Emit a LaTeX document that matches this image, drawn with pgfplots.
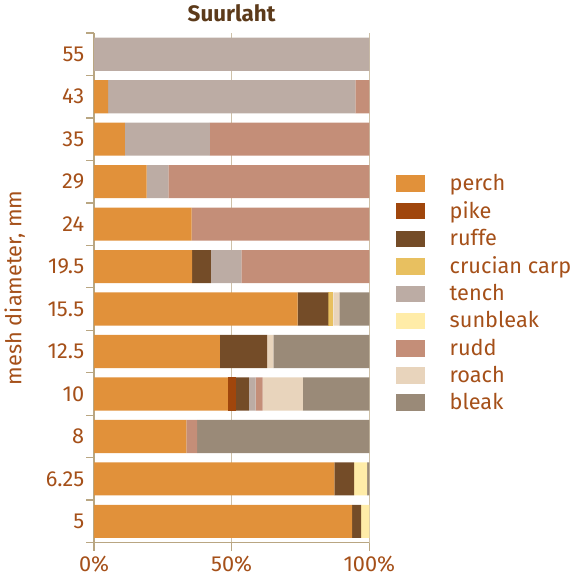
\documentclass[border=0pt]{standalone}
\usepackage{pgfplots}
\pgfplotsset{compat=1.18}
\usepackage{pgfplotstable}
\usepackage{fontspec}
\setmainfont{Fira Sans}

\definecolor{cperch}{RGB}{225,145,58}
\definecolor{cpike}{RGB}{160,70,12}
\definecolor{cruffe}{RGB}{116,76,40}
\definecolor{ccarp}{RGB}{232,192,96}
\definecolor{ctench}{RGB}{188,172,164}
\definecolor{csunbleak}{RGB}{255,236,168}
\definecolor{crudd}{RGB}{196,142,120}
\definecolor{croach}{RGB}{232,212,188}
\definecolor{cbleak}{RGB}{154,138,120}
\definecolor{txt}{RGB}{165,80,25}
\definecolor{ttl}{RGB}{92,58,26}
\definecolor{axl}{RGB}{185,166,130}

% mesh: 0=5, 1=6.25, 2=8, 3=10, 4=12.5, 5=15.5, 6=19.5, 7=24, 8=29, 9=35, 10=43, 11=55
\pgfplotstableread{
idx perch pike ruffe carp tench sunbleak rudd roach bleak
0   93.8  0    3.2   0    0     3.0      0    0     0
1   87.3  0    7.2   0    0     4.7      0    0     0.8
2   33.5  0    0     0    0     0        3.9  0     62.6
3   48.6  2.9  4.7   0    2.5   0        2.5  14.7  24.1
4   45.7  0    17.2  0    0     0        0    2.2   34.9
5   74.0  0    11.1  1.8  0     0        0    2.2   10.9
6   35.6  0    6.8   0    11.1  0        46.5 0     0
7   35.4  0    0     0    0     0        64.6 0     0
8   19.1  0    0     0    7.9   0        73.0 0     0
9   11.2  0    0     0    30.9  0        57.9 0     0
10  5.1   0    0     0    89.8  0        5.1  0     0
11  0     0    0     0    100   0        0    0     0
}\meshdata

\begin{document}
\begin{tikzpicture}
\begin{axis}[
    scale only axis,
    width=209pt, height=387pt,
    xbar stacked,
    bar width=0.78,
    xmin=0, xmax=100,
    ymin=-0.5, ymax=11.5,
    xtick={0,50,100},
    xticklabels={0\%,50\%,100\%},
    ytick={-0.5,0.5,...,11.5},
    yticklabels={},
    extra y ticks={0,1,...,11},
    extra y tick labels={5,6.25,8,10,12.5,15.5,19.5,24,29,35,43,55},
    extra y tick style={major tick length=0pt},
    tick align=outside,
    major tick length=6pt,
    axis x line*=bottom,
    axis y line*=left,
    axis line style={axl, line width=1pt, -},
    tick style={axl, line width=1pt},
    xmajorgrids=true,
    grid style={axl!70, line width=0.9pt},
    ticklabel style={font=\fontsize{16.5}{19}\selectfont, text=txt},
    yticklabel style={xshift=-4pt},
    xticklabel style={yshift=-1pt},
    ylabel={mesh diameter, mm},
    ylabel style={font=\fontsize{16.5}{19}\selectfont, text=txt, yshift=3pt},
    title={\textbf{Suurlaht}},
    title style={font=\fontsize{17}{20}\selectfont, text=ttl, yshift=-1pt},
    legend style={at={(1.095,0.49)}, anchor=west, draw=none, fill=none,
        font=\fontsize{16.5}{19}\selectfont, text=txt, row sep=2.8pt, inner sep=0pt},
    legend cell align=left,
    legend image code/.code={\fill[#1] (0pt,-6.5pt) rectangle (22pt,6pt);},
    every axis plot/.append style={draw=none},
]
\addplot[fill=cperch] table[x=perch, y=idx] {\meshdata};
\addplot[fill=cpike] table[x=pike, y=idx] {\meshdata};
\addplot[fill=cruffe] table[x=ruffe, y=idx] {\meshdata};
\addplot[fill=ccarp] table[x=carp, y=idx] {\meshdata};
\addplot[fill=ctench] table[x=tench, y=idx] {\meshdata};
\addplot[fill=csunbleak] table[x=sunbleak, y=idx] {\meshdata};
\addplot[fill=crudd] table[x=rudd, y=idx] {\meshdata};
\addplot[fill=croach] table[x=roach, y=idx] {\meshdata};
\addplot[fill=cbleak] table[x=bleak, y=idx] {\meshdata};
\legend{\hspace{17pt}perch,\hspace{17pt}pike,\hspace{17pt}ruffe,\hspace{17pt}crucian\ carp\hspace{1pt},\hspace{17pt}tench,\hspace{17pt}sunbleak,\hspace{17pt}rudd,\hspace{17pt}roach,\hspace{17pt}bleak}
\end{axis}
\end{tikzpicture}
\end{document}
